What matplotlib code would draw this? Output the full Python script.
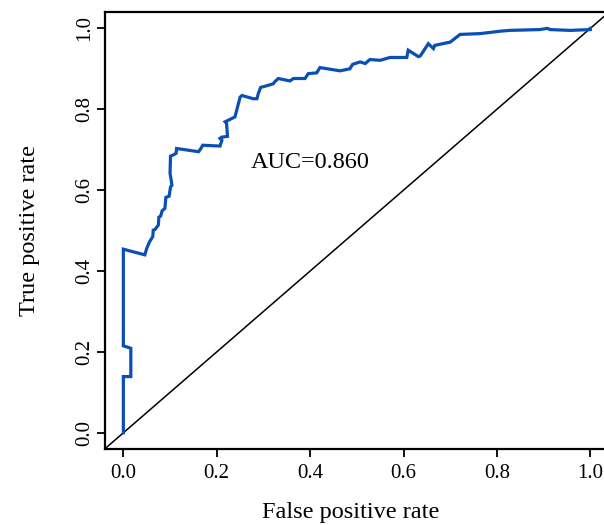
import numpy as np
import matplotlib.pyplot as plt

plt.rcParams['font.family'] = ['Liberation Serif', 'DejaVu Serif']

# ROC curve points
fpr = [0.0, 0.0, 0.016, 0.016, 0.0, 0.0, 0.046, 0.05, 0.056, 0.063, 0.064,
       0.068, 0.075, 0.076, 0.08, 0.083, 0.089, 0.091, 0.098, 0.101, 0.104,
       0.101, 0.1, 0.101, 0.107, 0.113, 0.114, 0.161, 0.166, 0.17, 0.207,
       0.211, 0.207, 0.211, 0.223, 0.221, 0.218, 0.232, 0.239, 0.25, 0.254,
       0.278, 0.286, 0.289, 0.294, 0.31, 0.321, 0.325, 0.332, 0.357, 0.364,
       0.389, 0.396, 0.414, 0.421, 0.464, 0.485, 0.491, 0.507, 0.518, 0.528,
       0.55, 0.571, 0.607, 0.61, 0.632, 0.636, 0.653, 0.664, 0.667, 0.7,
       0.721, 0.764, 0.807, 0.828, 0.892, 0.908, 0.914, 0.957, 1.0, 1.0]
tpr = [0.0, 0.139, 0.139, 0.209, 0.215, 0.454, 0.44, 0.456, 0.472, 0.485,
       0.501, 0.503, 0.514, 0.533, 0.536, 0.549, 0.555, 0.582, 0.585, 0.608,
       0.612, 0.635, 0.641, 0.684, 0.687, 0.691, 0.703, 0.695, 0.703, 0.711,
       0.709, 0.723, 0.728, 0.731, 0.733, 0.765, 0.769, 0.777, 0.781, 0.83,
       0.834, 0.826, 0.826, 0.839, 0.854, 0.859, 0.863, 0.869, 0.876, 0.87,
       0.876, 0.876, 0.888, 0.89, 0.903, 0.895, 0.9, 0.911, 0.917, 0.913,
       0.923, 0.921, 0.928, 0.928, 0.946, 0.93, 0.932, 0.962, 0.95, 0.958,
       0.966, 0.985, 0.987, 0.993, 0.995, 0.997, 1.0, 0.997, 0.995, 0.997, 1.0]
auc_text = 'AUC=0.860'
ticks = [0.0, 0.2, 0.4, 0.6, 0.8, 1.0]

fig = plt.figure(figsize=(6.04, 5.25), dpi=100)
# the right edge runs slightly past the image, as in the original
ax = fig.add_axes([0.1733, 0.1448, 0.835, 0.832])

ax.plot(fpr, tpr, color='#0a50b4', lw=2.3, solid_joinstyle='miter', zorder=3)
ax.axline((0, 0), (1, 1), color='black', lw=1.1)
ax.text(0.4, 0.668, auc_text, fontsize=17.5, ha='center', va='center')

ax.set_xlim(-0.04, 1.04)
ax.set_ylim(-0.04, 1.04)
ax.set_xticks(ticks)
ax.set_yticks(ticks)
ax.set_xticklabels([f'{t:.1f}' for t in ticks])
ax.set_yticklabels([f'{t:.1f}' for t in ticks], rotation=90, va='center')
ax.tick_params(labelsize=15, length=6, width=1.3)
ax.tick_params(axis='x', pad=5)
ax.tick_params(axis='y', pad=1.5)
for s in ax.spines.values():
    s.set_linewidth(1.6)

ax.set_xlabel('False positive rate', fontsize=17.5)
ax.set_ylabel('True positive rate', fontsize=17.5)
ax.xaxis.set_label_coords(0.488, -0.122)
ax.yaxis.set_label_coords(-0.128, 0.5)

fig.savefig('out.png', dpi=100)
